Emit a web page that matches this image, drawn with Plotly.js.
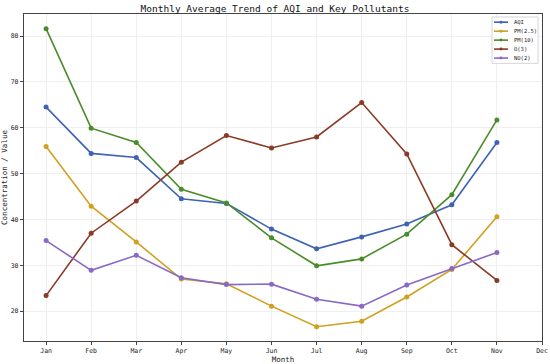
<!DOCTYPE html>
<html><head><meta charset="utf-8">
<script src="https://cdn.plot.ly/plotly-3.0.1.min.js"></script>
<style>body{margin:0;padding:0;background:#fff}#c{width:550px;height:364px}</style>
</head><body><div id="c"></div>
<script>
var months = ["Jan","Feb","Mar","Apr","May","Jun","Jul","Aug","Sep","Oct","Nov","Dec"];
var dataMonths = ["Jan","Feb","Mar","Apr","May","Jun","Jul","Aug","Sep","Oct","Nov"];
var aqi  = [64.5, 54.4, 53.5, 44.5, 43.5, 37.9, 33.6, 36.2, 39.0, 43.2, 56.8];
var pm25 = [55.9, 42.9, 35.1, 27.0, 26.0, 21.1, 16.6, 17.8, 23.1, 29.1, 40.6];
var pm10 = [81.6, 59.9, 56.8, 46.6, 43.6, 36.0, 29.9, 31.4, 36.8, 45.4, 61.7];
var o3   = [23.4, 37.0, 44.0, 52.5, 58.3, 55.6, 58.0, 65.5, 54.3, 34.5, 26.7];
var no2  = [35.4, 28.9, 32.2, 27.3, 25.8, 25.9, 22.6, 21.1, 25.7, 29.3, 32.8];
var names = ["AQI","PM(2.5)","PM(10)","O(3)","NO(2)"];
var colors = ["#3f63b4","#d0a020","#4a8c2a","#8b3a26","#8a68c6"];
var series = [aqi, pm25, pm10, o3, no2];
var idx = dataMonths.map(function(m){return months.indexOf(m);});
var traces = series.map(function(s,i){
  return {x: idx, y: s, name: names[i], mode: "lines+markers", type: "scatter",
    line: {color: colors[i], width: 1.6}, marker: {color: colors[i], size: 5}, showlegend: false};
});
var font = "DejaVu Sans Mono, monospace";
var M = {l: 24, r: 8, t: 13.5, b: 22.5}, W = 550, H = 364;
var pw = W - M.l - M.r, ph = H - M.t - M.b;
function px(x){ return (x - M.l) / pw; }
function py(y){ return (H - M.b - y) / ph; }
// compact legend drawn in paper space
var shapes = [{type: "rect", xref: "paper", yref: "paper", x0: px(492), x1: px(538), y0: py(63), y1: py(16.5),
  fillcolor: "rgba(255,255,255,0.9)", line: {color: "#cccccc", width: 0.8}}];
var annotations = [];
names.forEach(function(n,i){
  var yy = 21.7 + i * 9;
  shapes.push({type: "line", xref: "paper", yref: "paper", x0: px(494), x1: px(508), y0: py(yy), y1: py(yy),
    line: {color: colors[i], width: 1.6}});
  shapes.push({type: "circle", xref: "paper", yref: "paper", x0: px(499.5), x1: px(502.5), y0: py(yy+1.5), y1: py(yy-1.5),
    fillcolor: colors[i], line: {color: colors[i], width: 0}});
  annotations.push({xref: "paper", yref: "paper", x: px(512), y: py(yy), xanchor: "left", yanchor: "middle",
    text: n, showarrow: false, font: {family: font, size: 5.5, color: "#222"}});
});
var layout = {
  width: W, height: H, paper_bgcolor: "#fff", plot_bgcolor: "#fff",
  margin: M,
  font: {family: font, size: 7, color: "#222"},
  title: {text: "Monthly Average Trend of AQI and Key Pollutants", font: {family: font, size: 9.5, color: "#111"}, x: 0.5, xanchor: "center", y: 0.985, yanchor: "top"},
  xaxis: {range: [-0.49, 11], tickvals: months.map(function(m,i){return i;}), ticktext: months,
    showgrid: true, gridcolor: "#ebebeb", gridwidth: 0.8, zeroline: false,
    showline: true, linecolor: "#444", linewidth: 1.2, mirror: true,
    ticks: "outside", ticklen: 3, tickcolor: "#444", tickfont: {size: 6.5, color: "#222"},
    title: {text: "Month", font: {size: 7.5, color: "#222"}, standoff: 2}},
  yaxis: {range: [13.5, 84.8], tickvals: [20,30,40,50,60,70,80],
    showgrid: true, gridcolor: "#ebebeb", gridwidth: 0.8, zeroline: false,
    showline: true, linecolor: "#444", linewidth: 1.2, mirror: true,
    ticks: "outside", ticklen: 3, tickcolor: "#444", tickfont: {size: 6.5, color: "#222"},
    title: {text: "Concentration / Value", font: {size: 7.5, color: "#222"}, standoff: 4}},
  shapes: shapes, annotations: annotations,
  showlegend: false
};
Plotly.newPlot("c", traces, layout, {displayModeBar: false, staticPlot: true});
</script></body></html>
